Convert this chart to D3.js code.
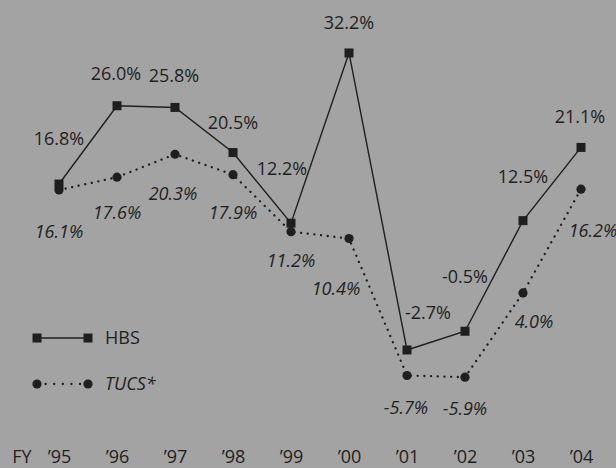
<!DOCTYPE html>
<html>
<head>
<meta charset="utf-8">
<script src="https://cdn.jsdelivr.net/npm/d3@7"></script>
<style>
  html, body { margin: 0; padding: 0; background: #a3a3a3; }
  svg { display: block; }
  text { font-family: "Open Sans", "Noto Sans", sans-serif; fill: #1f1f1f; }
</style>
</head>
<body>
<svg id="chart" width="616" height="468"></svg>
<script>
// Fiscal years and annual returns (%)
const years = ["’95", "’96", "’97", "’98", "’99", "’00", "’01", "’02", "’03", "’04"];
const hbs   = [16.8, 26.0, 25.8, 20.5, 12.2, 32.2, -2.7, -0.5, 12.5, 21.1];
const tucs  = [16.1, 17.6, 20.3, 17.9, 11.2, 10.4, -5.7, -5.9, 4.0, 16.2];
const seriesNames = ["HBS", "TUCS*"];

// Value-label placement relative to each point (layout only)
const hbsLabelOffset  = [[0,-46],[-1,-32],[-1,-32],[0,-30],[-9,-55],[0,-30],[21,-37],[0,-55],[0,-44],[-1,-31]];
const tucsLabelOffset = [[0,42],[0,35],[-2,39],[0,38],[0,29],[-13,50],[-1,32],[0,31],[11,29],[12,41]];

const W = 616, H = 468;
const ink = "#1f1f1f";
const axisBaseline = 462.5;
const svg = d3.select("#chart");

const x = d3.scalePoint().domain(years).range([59, 581]);
const y = d3.scaleLinear().domain([-10, 35]).range([412.1, 29.15]);

const fmt = v => v.toFixed(1) + "%";

// Lines
const line = d3.line().x((d, i) => x(years[i])).y(d => y(d));

svg.append("path")
  .datum(tucs)
  .attr("d", line)
  .attr("fill", "none")
  .attr("stroke", ink)
  .attr("stroke-width", 2.3)
  .attr("stroke-linecap", "round")
  .attr("stroke-dasharray", "0.1,6.6");

svg.append("path")
  .datum(hbs)
  .attr("d", line)
  .attr("fill", "none")
  .attr("stroke", ink)
  .attr("stroke-width", 1.4);

// Markers
svg.append("g").selectAll("circle")
  .data(tucs)
  .join("circle")
  .attr("cx", (d, i) => x(years[i]))
  .attr("cy", d => y(d))
  .attr("r", 4.6)
  .attr("fill", ink);

const sq = 9;
svg.append("g").selectAll("rect")
  .data(hbs)
  .join("rect")
  .attr("x", (d, i) => x(years[i]) - sq / 2)
  .attr("y", d => y(d) - sq / 2)
  .attr("width", sq)
  .attr("height", sq)
  .attr("fill", ink);

// Value labels
svg.append("g").selectAll("text")
  .data(hbs)
  .join("text")
  .attr("x", (d, i) => x(years[i]) + hbsLabelOffset[i][0])
  .attr("y", (d, i) => y(d) + hbsLabelOffset[i][1])
  .attr("dy", "0.36em")
  .attr("text-anchor", "middle")
  .attr("font-size", 18)
  .text(fmt);

svg.append("g").selectAll("text")
  .data(tucs)
  .join("text")
  .attr("x", (d, i) => x(years[i]) + tucsLabelOffset[i][0])
  .attr("y", (d, i) => y(d) + tucsLabelOffset[i][1])
  .attr("dy", "0.36em")
  .attr("text-anchor", "middle")
  .attr("font-size", 18)
  .attr("font-style", "italic")
  .text(fmt);

// Year axis
const axis = d3.axisBottom(x).tickSize(0).tickPadding(0);
const gAxis = svg.append("g")
  .attr("transform", `translate(0,${axisBaseline})`)
  .call(axis);
gAxis.select(".domain").remove();
gAxis.selectAll("text")
  .attr("y", 0)
  .attr("dy", 0)
  .attr("font-size", 18)
  .attr("font-family", null)
  .attr("fill", ink);
gAxis.attr("font-family", null).attr("font-size", null);

svg.append("text")
  .attr("x", 22)
  .attr("y", axisBaseline)
  .attr("text-anchor", "middle")
  .attr("font-size", 18)
  .text("FY");

// Legend
const legend = svg.append("g");
const lx0 = 37, lx1 = 88, ly = [338, 384];

legend.append("line")
  .attr("x1", lx0).attr("x2", lx1).attr("y1", ly[0]).attr("y2", ly[0])
  .attr("stroke", ink).attr("stroke-width", 1.4);
[lx0, lx1].forEach(cx => legend.append("rect")
  .attr("x", cx - sq / 2).attr("y", ly[0] - sq / 2)
  .attr("width", sq).attr("height", sq).attr("fill", ink));

legend.append("line")
  .attr("x1", lx0).attr("x2", lx1).attr("y1", ly[1]).attr("y2", ly[1])
  .attr("stroke", ink).attr("stroke-width", 2.3)
  .attr("stroke-linecap", "round")
  .attr("stroke-dasharray", "0.1,8.5");
[lx0, lx1].forEach(cx => legend.append("circle")
  .attr("cx", cx).attr("cy", ly[1]).attr("r", 4.6).attr("fill", ink));

legend.selectAll("text.lbl")
  .data(seriesNames)
  .join("text")
  .attr("class", "lbl")
  .attr("x", 105)
  .attr("y", (d, i) => ly[i])
  .attr("dy", "0.36em")
  .attr("font-size", 18)
  .attr("font-style", (d, i) => i === 1 ? "italic" : "normal")
  .text(d => d);
</script>
</body>
</html>
